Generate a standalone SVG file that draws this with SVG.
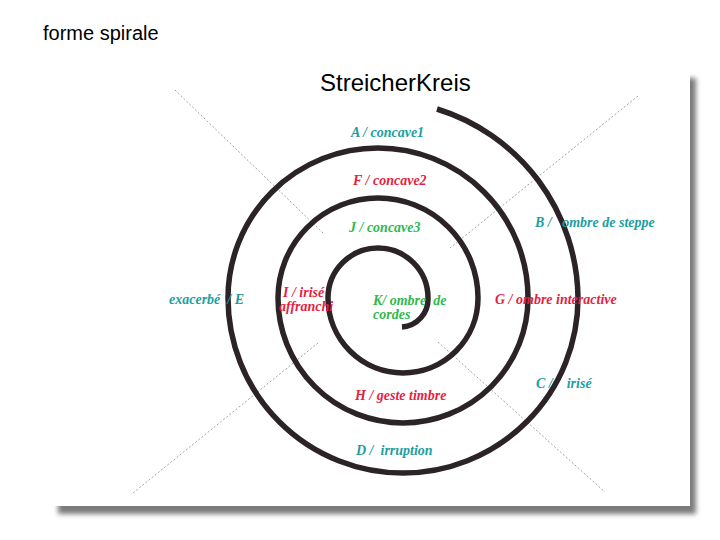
<svg xmlns="http://www.w3.org/2000/svg" width="720" height="540" viewBox="0 0 720 540">
  <defs>
    <filter id="blur" x="-5%" y="-5%" width="110%" height="110%">
      <feGaussianBlur stdDeviation="2.5"/>
    </filter>
    <style>
      .hdr { font-family: "Liberation Sans", Arial, sans-serif; fill: #000; }
      .lbl { font-family: "Liberation Serif", "Times New Roman", serif; font-style: italic; font-weight: bold; font-size: 14px; }
      .teal { fill: #1c9ea0; }
      .red { fill: #e41f3f; }
      .green { fill: #2fb84c; }
      .spiral { fill: none; stroke: #2b2325; stroke-width: 5.5; stroke-linecap: butt; }
      .axis { stroke: #8a8a8a; stroke-width: 0.8; stroke-dasharray: 2 2; fill: none; }
    </style>
  </defs>

  <rect x="0" y="0" width="720" height="540" fill="#ffffff"/>

  <!-- sheet with shadow -->
  <g id="sheet">
    <rect x="58" y="78" width="638" height="436" fill="#7a7a7a" filter="url(#blur)"/>
    <rect x="52" y="70" width="638" height="436" fill="#ffffff"/>
  </g>

  <text id="caption" class="hdr" x="43" y="40" font-size="20">forme spirale</text>
  <text id="title" class="hdr" x="320" y="91" font-size="24">StreicherKreis</text>

  <g id="connectors">
    <line class="axis" x1="175" y1="90" x2="323" y2="233"/>
    <line class="axis" x1="638" y1="96" x2="450" y2="248"/>
    <line class="axis" x1="318" y1="343" x2="133" y2="493"/>
    <line class="axis" x1="438" y1="342" x2="605" y2="492"/>
    <path id="spiral" class="spiral" d="M 402 327 A 28 28 0 0 0 428 298 A 50 50 0 0 0 328 298 A 75 75 0 0 0 478 298 A 100 100 0 0 0 278 298 A 125 125 0 0 0 528 298 A 150 150 0 0 0 228 298 A 175 175 0 0 0 578 298 A 200 200 0 0 0 437 109"/>
  </g>

  <g id="nodeA"><text class="lbl teal" x="351" y="137">A / concave1</text></g>
  <g id="nodeF"><text class="lbl red" x="353" y="185">F / concave2</text></g>
  <g id="nodeJ"><text class="lbl green" x="349" y="232">J / concave3</text></g>
  <g id="nodeB"><text class="lbl teal" x="535" y="227" xml:space="preserve">B /   ombre de steppe</text></g>
  <g id="nodeG"><text class="lbl red" x="495" y="304">G / ombre interactive</text></g>
  <g id="nodeE"><text class="lbl teal" x="169" y="304" xml:space="preserve">exacerbé  / E</text></g>
  <g id="nodeI"><text class="lbl red" x="283" y="297">I / irisé</text><text class="lbl red" x="279" y="311">affranchi</text></g>
  <g id="nodeK"><text class="lbl green" x="373" y="305" xml:space="preserve">K/ ombre  de</text><text class="lbl green" x="373" y="319">cordes</text></g>
  <g id="nodeC"><text class="lbl teal" x="536" y="388" xml:space="preserve">C /    irisé</text></g>
  <g id="nodeH"><text class="lbl red" x="355" y="400">H / geste timbre</text></g>
  <g id="nodeD"><text class="lbl teal" x="356" y="455" xml:space="preserve">D /  irruption</text></g>
</svg>
